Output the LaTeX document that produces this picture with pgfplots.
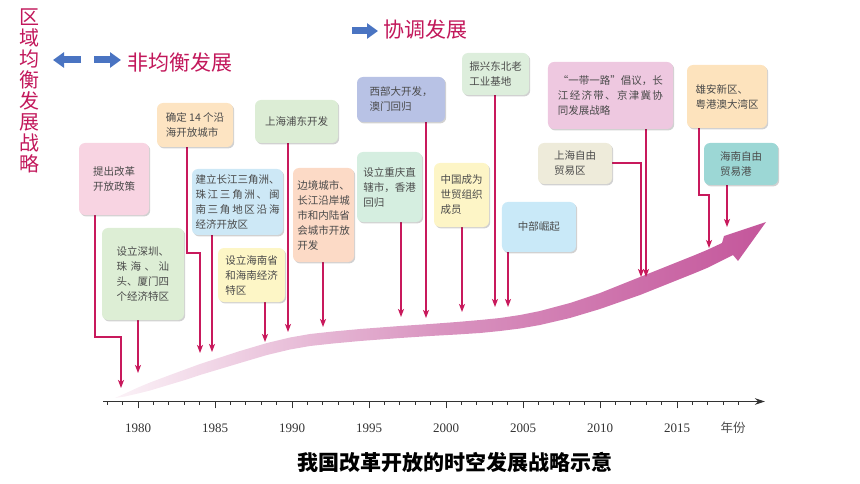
\documentclass[border=0pt]{standalone}
\usepackage{pgfplots}
\pgfplotsset{compat=1.18}
\usepackage{fontspec}
\setmainfont{Noto Sans CJK SC}
\newfontfamily\serifnum{Liberation Serif}
\usetikzlibrary{arrows.meta,shadows}
\definecolor{crim}{HTML}{C2185B}
\definecolor{ptr}{HTML}{C8195C}
\definecolor{bluea}{HTML}{4A74C2}
\definecolor{txt}{HTML}{4A4A4A}
\definecolor{axcol}{HTML}{333333}
\definecolor{bandL}{HTML}{FBF2F7}
\definecolor{bandM}{HTML}{D994C0}
\definecolor{bandR}{HTML}{C4569B}
\definecolor{cA}{HTML}{F8D4E2}
\definecolor{cB}{HTML}{DDEED5}
\definecolor{cC}{HTML}{FDE4C2}
\definecolor{cD}{HTML}{CDE8F6}
\definecolor{cE}{HTML}{FDF6C6}
\definecolor{cF}{HTML}{DCEDD5}
\definecolor{cG}{HTML}{FCDAC6}
\definecolor{cH}{HTML}{B8C2E5}
\definecolor{cI}{HTML}{D5EEE0}
\definecolor{cJ}{HTML}{FDF5C6}
\definecolor{cK}{HTML}{DDEEDC}
\definecolor{cL}{HTML}{C9E9F8}
\definecolor{cM}{HTML}{EEC8E0}
\definecolor{cN}{HTML}{EEEBDA}
\definecolor{cO}{HTML}{FDE3BD}
\definecolor{cP}{HTML}{9CD7D5}
\tikzset{
  evbox/.style={rounded corners=6pt, inner sep=0pt, align=left, text=txt,
    font=\fontsize{10.5}{15}\selectfont,
    drop shadow={shadow xshift=1.2pt, shadow yshift=-1.4pt, opacity=0.18, fill=black}},
  pointer/.style={ptr, line width=1.3pt, mark=none, -{Stealth[length=8pt,width=6pt,inset=2pt]}},
  bluearrow/.style={bluea, line width=7pt, -{Triangle[length=11pt,width=15pt]}}}
\newcommand\X[1]{1980+((#1)-138)/15.4}
\newcommand\J[2]{\makebox[#1em][s]{#2}}
\newcommand\ebox[6]{\node[evbox,fill=#5,minimum width={#3-#1},minimum height={#4-#2}] at (axis cs:{\X{(#1+#3)/2}},{(#2+#4)/2}) {#6};}
\begin{document}
\begin{tikzpicture}
\begin{axis}[name=main, width=860pt, height=484pt, scale only axis, hide axis,
  xmin=1971.039, xmax=2026.883, ymin=0, ymax=484, y dir=reverse, clip=false]
\path (rel axis cs:0,0) rectangle (rel axis cs:1,1);
\coordinate (tl) at (axis cs:{\X{103}},401.5);
% band (development curve): upper edge, arrow head, lower edge
\addplot[draw=none, left color=bandL, right color=bandR, middle color=bandM] coordinates {
(1978.506,398) (1979.156,393.5) (1980.000,387.5) (1980.779,382.5) (1982.078,375)
(1983.052,369.5) (1984.026,364) (1985.325,357.5) (1986.623,351) (1988.377,343)
(1989.870,337.5) (1991.169,334) (1992.662,331.5) (1994.416,329) (1997.013,326)
(1998.961,324) (2000.714,322) (2002.208,320) (2003.506,318) (2004.805,315)
(2006.104,311) (2008.052,303) (2010.000,293) (2011.299,285) (2012.597,277)
(2013.896,269) (2015.195,261) (2016.169,255) (2016.948,250) (2017.922,243)
(2018.052,236) (2020.779,222) (2018.961,261) (2018.636,255)
(2016.948,268) (2016.169,273) (2015.195,279) (2013.896,287) (2012.597,295)
(2011.299,302) (2010.000,309) (2008.052,318) (2006.104,325) (2004.805,328.5)
(2003.506,331) (2002.208,333) (2000.714,334.5) (1998.961,336) (1997.013,338)
(1994.416,341) (1992.662,343.5) (1991.169,346) (1989.870,349.5) (1988.377,355)
(1986.623,363) (1985.325,369) (1984.026,375) (1983.052,380) (1982.078,384.5)
(1980.779,390.5) (1980.000,393.5) (1979.156,396.5) (1978.506,398)};
% pointers to the years
\addplot[pointer] coordinates {(1977.208,215) (1977.208,337) (1978.896,337) (1978.896,388)};
\addplot[pointer] coordinates {(1980,320) (1980,373)};
\addplot[pointer] coordinates {(1983.182,147) (1983.182,253) (1984.026,253) (1984.026,353)};
\addplot[pointer] coordinates {(1984.805,235) (1984.805,352)};
\addplot[pointer] coordinates {(1988.247,302) (1988.247,342)};
\addplot[pointer] coordinates {(1989.740,143) (1989.740,332)};
\addplot[pointer] coordinates {(1992.013,262) (1992.013,327)};
\addplot[pointer] coordinates {(1998.701,122) (1998.701,318)};
\addplot[pointer] coordinates {(1997.078,222) (1997.078,317)};
\addplot[pointer] coordinates {(2001.039,227) (2001.039,312)};
\addplot[pointer] coordinates {(2003.182,95) (2003.182,307)};
\addplot[pointer] coordinates {(2004.026,252) (2004.026,307)};
\addplot[pointer] coordinates {(2012.987,129) (2012.987,277)};
\addplot[pointer] coordinates {(2010.779,163) (2012.662,163) (2012.662,277)};
\addplot[pointer] coordinates {(2016.429,128) (2016.429,195) (2017.078,195) (2017.078,248)};
\addplot[pointer] coordinates {(2018.247,185) (2018.247,227)};
% boxes
\ebox{79}{143}{149}{215}{cA}{提出改革\\开放政策}
\ebox{102}{228}{184}{320}{cB}{设立深圳、\\\J{5}{珠\hfill 海\hfill 、\hfill 汕}\\头、厦门四\\个经济特区}
\ebox{157}{103}{233}{147}{cC}{确定 14 个沿\\海开放城市}
\ebox{192}{169}{283}{235}{cD}{建立长江三角洲、\\\J{8}{珠\hfill 江\hfill 三\hfill 角\hfill 洲\hfill 、\hfill 闽}\\\J{8}{南\hfill 三\hfill 角\hfill 地\hfill 区\hfill 沿\hfill 海}\\经济开放区}
\ebox{218}{248}{285}{302}{cE}{设立海南省\\和海南经济\\特区}
\ebox{255}{100}{338}{143}{cF}{上海浦东开发}
\ebox{293}{168}{354}{262}{cG}{边境城市、\\长江沿岸城\\市和内陆省\\会城市开放\\开发}
\ebox{357}{77}{445}{122}{cH}{西部大开发，\\澳门回归}
\ebox{357}{152}{422}{222}{cI}{设立重庆直\\辖市，香港\\回归}
\ebox{434}{163}{489}{227}{cJ}{中国成为\\世贸组织\\成员}
\ebox{462}{53}{529}{95}{cK}{振兴东北老\\工业基地}
\ebox{502}{202}{576}{252}{cL}{中部崛起}
\ebox{548}{62}{673}{129}{cM}{“一带一路”倡议，长\\\J{10}{江\hfill 经\hfill 济\hfill 带\hfill 、\hfill 京\hfill 津\hfill 冀\hfill 协}\\同发展战略}
\ebox{538}{143}{612}{184}{cN}{上海自由\\贸易区}
\ebox{687}{65}{767}{128}{cO}{雄安新区、\\粤港澳大湾区}
\ebox{704}{143}{778}{185}{cP}{海南自由\\贸易港}
% headings
\node[crim, align=center, inner sep=0pt, font=\fontsize{20}{21}\selectfont] at (axis cs:{\X{30}},91) {区\\域\\均\\衡\\发\\展\\战\\略};
\draw[bluearrow] (axis cs:{\X{81}},60) -- (axis cs:{\X{53}},60);
\draw[bluearrow] (axis cs:{\X{94}},60) -- (axis cs:{\X{121}},60);
\draw[bluearrow] (axis cs:{\X{352}},31) -- (axis cs:{\X{378}},31);
\node[crim, inner sep=0pt, font=\fontsize{21}{21}\selectfont] at (axis cs:{\X{180}},63) {非均衡发展};
\node[crim, inner sep=0pt, font=\fontsize{21}{21}\selectfont] at (axis cs:{\X{425}},30) {协调发展};
\node[txt, inner sep=0pt, font=\fontsize{12.5}{13}\selectfont] at (axis cs:{\X{733}},428) {年份};
\node[black, inner sep=0pt, font=\fontsize{21}{21}\selectfont\bfseries] at (axis cs:{\X{455}},462) {我国改革开放的时空发展战略示意};
\end{axis}
\begin{axis}[at={(tl)}, anchor=south west, width=662pt, height=20pt, scale only axis,
  xmin=1977.727, xmax=2020.714, ymin=0, ymax=1,
  axis x line=bottom, axis y line=none,
  x axis line style={axcol, line width=1.1pt, -{Stealth[length=10pt,width=6.5pt]}},
  xtick={1980,1985,...,2015}, minor xtick={1978,...,2019},
  tick align=outside, major tick length=7pt, minor tick length=3.5pt,
  tick style={axcol, line width=0.9pt},
  xticklabel style={font=\fontsize{13}{13}\selectfont\serifnum, text=axcol, anchor=center, inner sep=0pt, yshift=-19.5pt},
  /pgf/number format/1000 sep={}, /pgf/number format/assume math mode=true]
\addplot[draw=none] coordinates {(1980,0.5)};
\end{axis}
\end{tikzpicture}
\end{document}
